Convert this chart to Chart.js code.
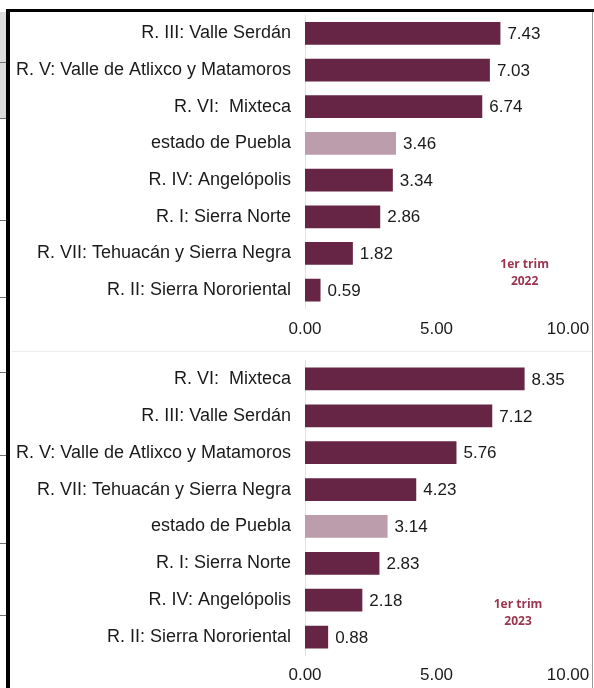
<!DOCTYPE html>
<html>
<head>
<meta charset="utf-8">
<script src="https://cdn.jsdelivr.net/npm/chart.js@4"></script>
<style>
  html, body { margin: 0; padding: 0; background: #fff; }
  body { width: 594px; height: 688px; position: relative; overflow: hidden; }
  .box { position: absolute; left: 12px; width: 580px; }
  #box1 { top: 12px; height: 339px; }
  #box2 { top: 352px; height: 336px; }
  .sep { position: absolute; left: 12px; width: 580px; top: 351px; height: 1px; background: #ececec; }
  .frame-left { position: absolute; left: 6px; top: 9px; width: 4px; height: 679px; background: #000; }
  .frame-top { position: absolute; left: 6px; top: 9px; width: 588px; height: 3px; background: #000; }
  .frame-right { position: absolute; left: 592px; top: 12px; width: 1px; height: 676px; background: #9a9a9a; }
  .grey { position: absolute; left: 0; top: 12px; width: 6px; height: 106px; background: #dcdcdc; }
  .tick { position: absolute; left: 0; width: 6px; height: 1px; background: #707070; }
</style>
</head>
<body>
<div class="grey"></div>
<div class="tick" style="top:62px"></div>
<div class="tick" style="top:118px"></div>
<div class="tick" style="top:220px"></div>
<div class="tick" style="top:297px"></div>
<div class="tick" style="top:372px"></div>
<div class="tick" style="top:455px"></div>
<div class="tick" style="top:543px"></div>
<div class="tick" style="top:615px"></div>
<div class="frame-left"></div>
<div class="frame-top"></div>
<div class="frame-right"></div>
<div class="sep"></div>
<div class="box" id="box1"><canvas id="chart1"></canvas></div>
<div class="box" id="box2"><canvas id="chart2"></canvas></div>
<script>
const labels2022 = [
  'R. III: Valle Serdán',
  'R. V: Valle de Atlixco y Matamoros',
  'R. VI:  Mixteca',
  'estado de Puebla',
  'R. IV: Angelópolis',
  'R. I: Sierra Norte',
  'R. VII: Tehuacán y Sierra Negra',
  'R. II: Sierra Nororiental'
];
const values2022 = [7.43, 7.03, 6.74, 3.46, 3.34, 2.86, 1.82, 0.59];

const labels2023 = [
  'R. VI:  Mixteca',
  'R. III: Valle Serdán',
  'R. V: Valle de Atlixco y Matamoros',
  'R. VII: Tehuacán y Sierra Negra',
  'estado de Puebla',
  'R. I: Sierra Norte',
  'R. IV: Angelópolis',
  'R. II: Sierra Nororiental'
];
const values2023 = [8.35, 7.12, 5.76, 4.23, 3.14, 2.83, 2.18, 0.88];

const xTicks = [0, 5, 10];
const stateLabel = 'estado de Puebla';

const barColor = '#662545';
const stateColor = '#bc9dab';
const textColor = '#1a1a1a';
const fontFamily = '"Liberation Sans", Arial, sans-serif';

function makeChart(canvasId, labels, values, note, noteX, layout) {
  const colors = labels.map(l => l === stateLabel ? stateColor : barColor);

  // Values to the right of each bar.
  const valueLabels = {
    id: 'valueLabels',
    afterDatasetsDraw: (chart) => {
      const {ctx} = chart;
      const meta = chart.getDatasetMeta(0);
      ctx.save();
      ctx.font = '17px ' + fontFamily;
      ctx.fillStyle = textColor;
      ctx.textAlign = 'left';
      ctx.textBaseline = 'middle';
      meta.data.forEach((bar, i) => {
        ctx.fillText(values[i].toFixed(2), bar.x + 7, bar.y + 1);
      });
      ctx.restore();
    }
  };

  // Period note ("1er trim").
  const notePlugin = {
    id: 'periodNote',
    afterDraw: (chart) => {
      const {ctx, scales: {x, y}} = chart;
      const cx = x.getPixelForValue(noteX);
      const cy = (y.getPixelForValue(labels.length - 2) + y.getPixelForValue(labels.length - 1)) / 2 + layout.noteDy;
      ctx.save();
      ctx.font = 'bold 12px "Open Sans", sans-serif';
      ctx.fillStyle = '#9b3550';
      ctx.textAlign = 'center';
      ctx.textBaseline = 'middle';
      ctx.fillText(note[0], cx, cy - 8.5);
      ctx.fillText(note[1], cx, cy + 8.5);
      ctx.restore();
    }
  };

  return new Chart(document.getElementById(canvasId), {
    type: 'bar',
    data: {
      labels: labels,
      datasets: [{
        data: values,
        backgroundColor: colors,
        barPercentage: 0.62,
        categoryPercentage: 1.0
      }]
    },
    options: {
      indexAxis: 'y',
      responsive: true,
      maintainAspectRatio: false,
      animation: false,
      events: [],
      layout: {
        padding: {top: layout.top, right: 24, bottom: 0, left: 0}
      },
      plugins: {
        legend: {display: false},
        tooltip: {enabled: false}
      },
      scales: {
        x: {
          min: 0,
          max: 10,
          afterBuildTicks: (scale) => {
            scale.ticks = xTicks.map(v => ({value: v}));
          },
          afterFit: (scale) => {
            scale.height = layout.xHeight;
            scale.paddingLeft = 0;
            scale.paddingRight = 0;
          },
          grid: {display: false, drawTicks: false},
          border: {display: false},
          ticks: {
            padding: layout.xPad,
            maxRotation: 0,
            color: textColor,
            font: {family: fontFamily, size: 17},
            callback: (v) => Number(v).toFixed(2)
          }
        },
        y: {
          afterFit: (scale) => {
            scale.width = 293;
            // keep the category band flush with the layout padding
            scale.paddingTop = 0;
            scale.paddingBottom = 0;
          },
          grid: {display: false, drawTicks: false},
          border: {display: true, color: '#e3e3e3', width: 1},
          ticks: {
            padding: 14,
            autoSkip: false,
            color: textColor,
            font: {family: fontFamily, size: 18}
          }
        }
      }
    },
    plugins: [valueLabels, notePlugin]
  });
}

makeChart('chart1', labels2022, values2022, ['1er trim', '2022'], 8.35,
  {top: 3, xHeight: 42.5, xPad: 11, noteDy: 1});
makeChart('chart2', labels2023, values2023, ['1er trim', '2023'], 8.1,
  {top: 8.5, xHeight: 32.5, xPad: 10, noteDy: -6});
</script>
</body>
</html>
